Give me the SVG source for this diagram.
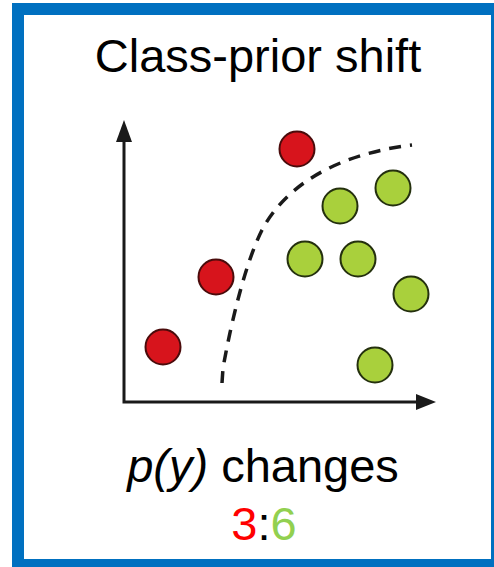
<svg xmlns="http://www.w3.org/2000/svg" width="494" height="567" viewBox="0 0 494 567">
  <style>
    .txt { font-family: "Liberation Sans", Arial, sans-serif; font-size: 47px; fill: #000; }
    .red { fill: #D7141C; stroke: #4A0B0B; stroke-width: 2; }
    .green { fill: #A9D03C; stroke: #24300E; stroke-width: 2; }
    .axis { stroke: #1A1A1A; stroke-width: 3; fill: none; }
    .head { fill: #1A1A1A; }
    .boundary { stroke: #1A1A1A; stroke-width: 3.5; fill: none; stroke-dasharray: 12 9; }
  </style>
  <rect x="0" y="0" width="494" height="567" fill="#FFFFFF"/>
  <g id="frame">
    <rect x="18" y="9" width="479" height="556" fill="#FFFFFF" stroke="#0070C0" stroke-width="12"/>
  </g>
  <g id="title">
    <text class="txt" x="258" y="72" text-anchor="middle">Class-prior shift</text>
  </g>
  <g id="connectors">
    <g id="axes">
      <polyline class="axis" points="124,138 124,402 420,402"/>
      <polygon class="head" points="124,120 116,142 132,142"/>
      <polygon class="head" points="436,402 416,394 416,410"/>
    </g>
    <path id="decision-boundary" class="boundary" d="M222,383 L223,368 C232,318 246,262 262,230 C283,190 330,155 412,145"/>
  </g>
  <g id="red-points">
    <circle id="r1" class="red" cx="297" cy="149" r="17.5"/>
    <circle id="r2" class="red" cx="216" cy="277" r="17.5"/>
    <circle id="r3" class="red" cx="163" cy="347" r="17.5"/>
  </g>
  <g id="green-points">
    <circle id="g1" class="green" cx="340" cy="206" r="17.5"/>
    <circle id="g2" class="green" cx="393" cy="188" r="17.5"/>
    <circle id="g3" class="green" cx="305" cy="259" r="17.5"/>
    <circle id="g4" class="green" cx="358" cy="259" r="17.5"/>
    <circle id="g5" class="green" cx="411" cy="294" r="17.5"/>
    <circle id="g6" class="green" cx="375" cy="365" r="17.5"/>
  </g>
  <g id="caption">
    <text class="txt" x="263" y="482" text-anchor="middle"><tspan font-style="italic">p(y)</tspan> changes</text>
    <text class="txt" x="264" y="540" text-anchor="middle"><tspan fill="#FF0000">3</tspan><tspan fill="#000000">:</tspan><tspan fill="#92D050">6</tspan></text>
  </g>
</svg>
